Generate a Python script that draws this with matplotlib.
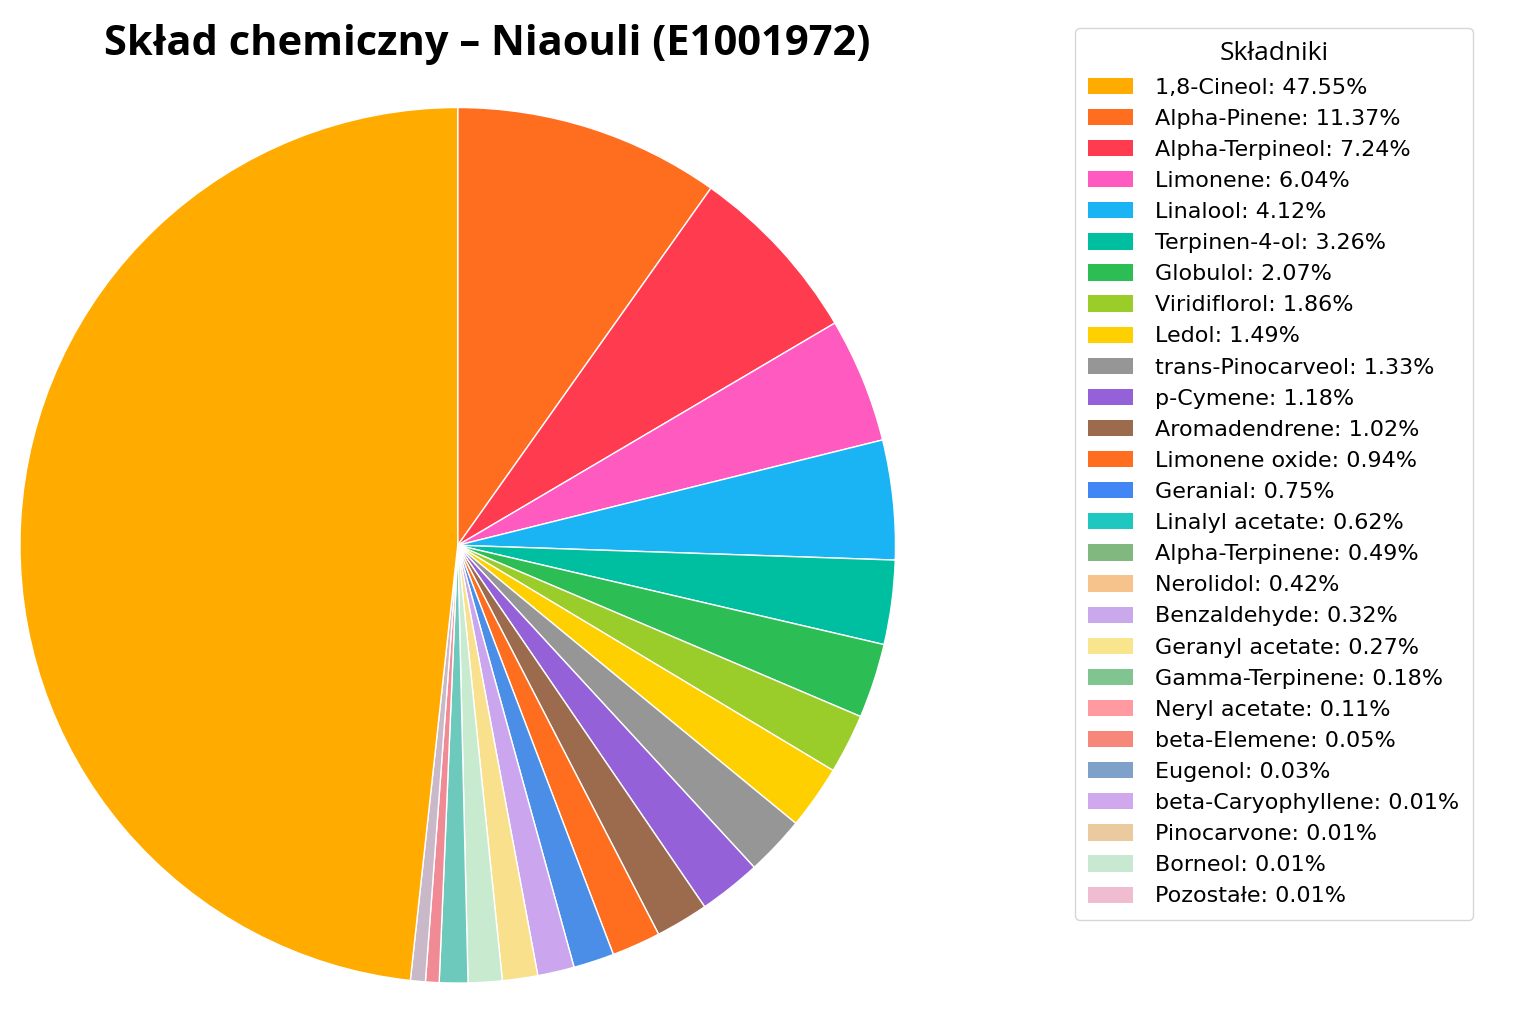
import matplotlib
matplotlib.use('Agg')
import matplotlib.pyplot as plt
from matplotlib.patches import Patch

plt.rcParams['font.family'] = ['DejaVu Sans']

# legend entries
names = ['1,8-Cineol', 'Alpha-Pinene', 'Alpha-Terpineol', 'Limonene', 'Linalool',
         'Terpinen-4-ol', 'Globulol', 'Viridiflorol', 'Ledol', 'trans-Pinocarveol',
         'p-Cymene', 'Aromadendrene', 'Limonene oxide', 'Geranial', 'Linalyl acetate',
         'Alpha-Terpinene', 'Nerolidol', 'Benzaldehyde', 'Geranyl acetate',
         'Gamma-Terpinene', 'Neryl acetate', 'beta-Elemene', 'Eugenol',
         'beta-Caryophyllene', 'Pinocarvone', 'Borneol', 'Pozostałe']
values = [47.55, 11.37, 7.24, 6.04, 4.12, 3.26, 2.07, 1.86, 1.49, 1.33, 1.18, 1.02,
          0.94, 0.75, 0.62, 0.49, 0.42, 0.32, 0.27, 0.18, 0.11, 0.05, 0.03, 0.01,
          0.01, 0.01, 0.01]
colors = ['#ffab00', '#ff6d1f', '#ff3b50', '#ff5ac0', '#1ab4f5', '#00bfa0', '#2dbd55',
          '#9acd2a', '#ffd000', '#969696', '#9461d8', '#9c6b4e', '#ff6d1f', '#4285f4',
          '#1ec8c0', '#80b880', '#f7c38c', '#c9a8ec', '#f9e58e', '#80c490', '#ff9aa0',
          '#f7877a', '#7fa0c8', '#cfa8ee', '#eccaa0', '#c8e8d2', '#f0bcd0']

# slices as drawn in the picture (clockwise from the top), shares in percent
slice_share = [9.8, 6.7, 4.6, 4.4, 3.1, 2.75, 2.2, 2.35, 2.2, 2.3, 1.95, 1.8,
               1.5, 1.35, 1.3, 1.25, 1.05, 0.5, 0.55, 48.2]
slice_colors = ['#ff6d1f', '#ff3b50', '#ff5ac0', '#1ab4f5', '#00bfa0', '#2dbd55',
                '#9acd2a', '#ffd000', '#969696', '#9461d8', '#9c6b4e', '#ff6d1f',
                '#4a8ee8', '#cba6ee', '#f9e08c', '#c8ebd0', '#6cc9bb', '#f08a95',
                '#c8b8c8', '#ffab00']

fig = plt.figure(figsize=(15.36, 10.24), dpi=100)
ax = fig.add_axes([0.013, 0.040, 0.570, 0.855])

ax.pie(slice_share, colors=slice_colors, startangle=90, counterclock=False,
       wedgeprops=dict(edgecolor='white', linewidth=1))
ax.set_xlim(-1, 1)
ax.set_ylim(-1, 1)
ax.set_aspect('equal')

fig.text(0.317, 0.957, 'Skład chemiczny – Niaouli (E1001972)', ha='center', va='center',
         fontsize=30, fontweight='bold', family=['Open Sans', 'DejaVu Sans'])

handles = [Patch(facecolor=c) for c in colors]
labels = [f'{n}: {v:.2f}%' for n, v in zip(names, values)]
leg = fig.legend(handles, labels, loc='upper left', bbox_to_anchor=(1064 / 1536, 1 - 17 / 1024),
                 title='Składniki', fontsize=16, title_fontsize=19, labelspacing=0.5,
                 handlelength=2.0, handleheight=0.75, handletextpad=1.0, borderpad=0.6,
                 frameon=True, fancybox=True)
leg.get_frame().set_edgecolor('#cccccc')
leg.get_title().set_family(['Open Sans', 'DejaVu Sans'])

fig.savefig('out.png', dpi=100)
